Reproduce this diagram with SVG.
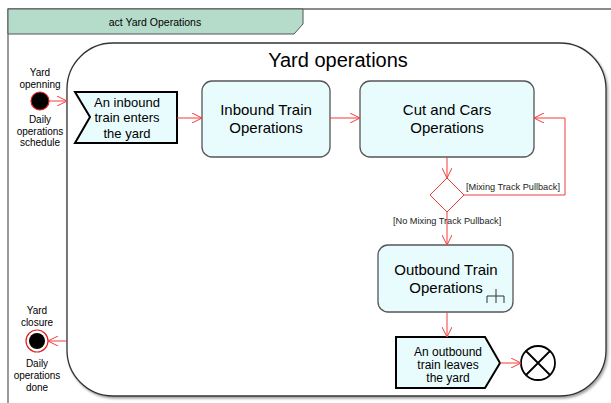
<svg xmlns="http://www.w3.org/2000/svg" width="611" height="403" viewBox="0 0 611 403">
<defs>
<style>
text{font-family:"Liberation Sans",Arial,sans-serif;fill:#000}
.act{fill:#e9fcfd;stroke:#555;stroke-width:1.3}
.sig{fill:#e9fcfd;stroke:#000;stroke-width:2}
.flow{fill:none;stroke:#f03c3c;stroke-width:1}
.lbl{font-size:10px;text-anchor:middle}
.big{font-size:15px;text-anchor:middle}
.mid{font-size:13px;text-anchor:middle}
.sm{font-size:12px;text-anchor:middle}
.grd{font-size:9.2px;fill:#222}
</style>
<marker id="arr" viewBox="0 0 10 10" refX="10" refY="5" markerWidth="10" markerHeight="10" markerUnits="userSpaceOnUse" orient="auto">
<path d="M0,0 L10,5 L0,10" fill="none" stroke="#f03c3c" stroke-width="1"/>
</marker>
<filter id="sh" x="-5%" y="-5%" width="110%" height="110%">
<feDropShadow dx="1.5" dy="2" stdDeviation="1.2" flood-color="#000" flood-opacity="0.35"/>
</filter>
</defs>
<rect width="611" height="403" fill="#fff"/>
<g id="frame">
<path d="M8,403 L8,9 L611,9" fill="none" stroke="#666" stroke-width="1.3"/>
<path d="M8,9 L303,9 L303,24 L294,34 L8,34 Z" fill="#b5dccb" stroke="#555" stroke-width="1"/>
<text x="155" y="26" font-size="10.5" text-anchor="middle">act Yard Operations</text>
</g>
<g id="yard-operations">
<rect x="67" y="43" width="539" height="353" rx="46" ry="46" fill="#fff" stroke="#333" stroke-width="1.3" filter="url(#sh)"/>
<text x="338" y="67" font-size="20" text-anchor="middle">Yard operations</text>
</g>
<g id="yard-opening">
<circle cx="40" cy="101" r="9" fill="#000" stroke="#e02020" stroke-width="1.2"/>
<text class="lbl" x="40" y="76">Yard</text>
<text class="lbl" x="40" y="88">openning</text>
<text class="lbl" x="40" y="123">Daily</text>
<text class="lbl" x="40" y="135">operations</text>
<text class="lbl" x="40" y="146">schedule</text>
</g>
<g id="yard-closure">
<circle cx="37" cy="341" r="11" fill="#fff" stroke="#e02020" stroke-width="1.2"/>
<circle cx="37" cy="341" r="8" fill="#000"/>
<text class="lbl" x="37" y="314">Yard</text>
<text class="lbl" x="37" y="326">closure</text>
<text class="lbl" x="37" y="367">Daily</text>
<text class="lbl" x="37" y="379">operations</text>
<text class="lbl" x="37" y="391">done</text>
</g>
<g id="inbound-train-enters">
<polygon class="sig" points="75,92 177,92 177,143 75,143 90,117"/>
<text class="mid" x="127" y="107">An inbound</text>
<text class="mid" x="127" y="122">train enters</text>
<text class="mid" x="127" y="138">the yard</text>
</g>
<g id="inbound-train-operations">
<rect class="act" x="202" y="81" width="128" height="76" rx="10"/>
<text class="big" x="266" y="115">Inbound Train</text>
<text class="big" x="266" y="133">Operations</text>
</g>
<g id="cut-and-cars">
<rect class="act" x="360" y="81" width="174" height="76" rx="10"/>
<text class="big" x="447" y="115">Cut and Cars</text>
<text class="big" x="447" y="133">Operations</text>
</g>
<g id="decision">
<polygon points="447,178 464,195 447,212 430,195" fill="#fff" stroke="#f03c3c" stroke-width="1"/>
</g>
<g id="outbound-train-operations">
<rect class="act" x="378" y="245" width="135" height="67" rx="10"/>
<text class="big" x="446" y="275">Outbound Train</text>
<text class="big" x="446" y="293">Operations</text>
<path d="M496,289 V303 M487,303 V296 H504 V303" fill="none" stroke="#333" stroke-width="1"/>
</g>
<g id="outbound-train-leaves">
<polygon class="sig" points="396,337 485,337 500,363 485,388 396,388"/>
<text class="sm" x="448" y="356">An outbound</text>
<text class="sm" x="448" y="369">train leaves</text>
<text class="sm" x="448" y="382">the yard</text>
</g>
<g id="flow-final">
<circle cx="538" cy="363" r="17" fill="#fff" stroke="#000" stroke-width="1.8"/>
<path d="M526,351 L550,375 M550,351 L526,375" stroke="#000" stroke-width="1.8"/>
</g>
<g id="connectors">
<line class="flow" x1="49" y1="101" x2="67" y2="101" marker-end="url(#arr)"/>
<line class="flow" x1="177" y1="118" x2="202" y2="118" marker-end="url(#arr)"/>
<line class="flow" x1="330" y1="118" x2="360" y2="118" marker-end="url(#arr)"/>
<line class="flow" x1="447" y1="157" x2="447" y2="178" marker-end="url(#arr)"/>
<polyline class="flow" points="464,195 565,195 565,118 534,118" marker-end="url(#arr)"/>
<text class="grd" x="466" y="190">[Mixing Track Pullback]</text>
<line class="flow" x1="447" y1="212" x2="447" y2="245" marker-end="url(#arr)"/>
<text class="grd" x="393" y="224">[No Mixing Track Pullback]</text>
<line class="flow" x1="447" y1="312" x2="447" y2="337" marker-end="url(#arr)"/>
<line class="flow" x1="500" y1="363" x2="521" y2="363" marker-end="url(#arr)"/>
<line class="flow" x1="67" y1="341" x2="48" y2="341" marker-end="url(#arr)"/>
</g>
</svg>
